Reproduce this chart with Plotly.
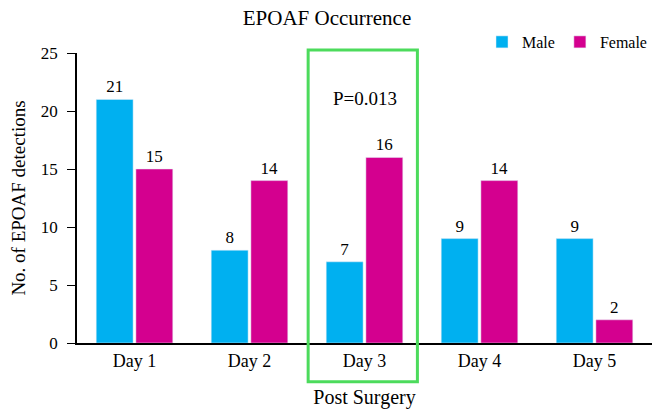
import plotly.graph_objects as go

days = ["Day 1", "Day 2", "Day 3", "Day 4", "Day 5"]
male = [21, 8, 7, 9, 9]
female = [15, 14, 16, 14, 2]
y_ticks = [0, 5, 10, 15, 20, 25]

FONT = "Liberation Serif, Times New Roman, serif"

fig = go.Figure()
fig.add_trace(go.Bar(name="Male", x=days, y=male, marker_color="#00B0F0",
                     text=male, textposition="outside", cliponaxis=False,
                     textfont=dict(size=17, color="black", family=FONT)))
fig.add_trace(go.Bar(name="Female", x=days, y=female, marker_color="#D4008F",
                     text=female, textposition="outside", cliponaxis=False,
                     textfont=dict(size=17, color="black", family=FONT)))

fig.add_shape(type="rect", xref="x", yref="paper", x0=1.51, x1=2.46, y0=-0.134, y1=1.01,
              line=dict(color="#4CDB5C", width=3), fillcolor="rgba(0,0,0,0)", layer="above")
fig.add_annotation(x=2, y=21.1, xref="x", yref="y", text="P=0.013", showarrow=False,
                   font=dict(size=19, color="black", family=FONT))

fig.update_layout(
    width=654, height=410,
    margin=dict(l=77, r=2, t=53, b=67),
    paper_bgcolor="white", plot_bgcolor="white",
    font=dict(family=FONT, color="black"),
    title=dict(text="EPOAF Occurrence", x=0.5, xanchor="center", y=0.975, yanchor="top",
               font=dict(size=21, family=FONT, color="black")),
    barmode="group", bargap=0.31, bargroupgap=0.07,
    legend=dict(orientation="h", x=1.0, y=1.038, xanchor="right", yanchor="middle",
                font=dict(size=16, family=FONT), itemwidth=30, bgcolor="rgba(0,0,0,0)",
                tracegroupgap=0),
    xaxis=dict(showline=True, linecolor="black", linewidth=2, ticks="", automargin=False,
               tickfont=dict(size=18, family=FONT),
               title=dict(text="Post Surgery", font=dict(size=20, family=FONT), standoff=20)),
    yaxis=dict(range=[0, 25], tickvals=y_ticks, showline=True, linecolor="black", linewidth=1.5,
               ticks="outside", ticklen=8, tickcolor="black", showgrid=False, zeroline=False,
               ticklabelstandoff=6,
               automargin=False, tickfont=dict(size=17, family=FONT),
               title=dict(text="No. of EPOAF detections", font=dict(size=19, family=FONT), standoff=10)),
)

fig.write_html("out.html", config={"displayModeBar": False},
               post_script="document.body.style.margin='0';")
